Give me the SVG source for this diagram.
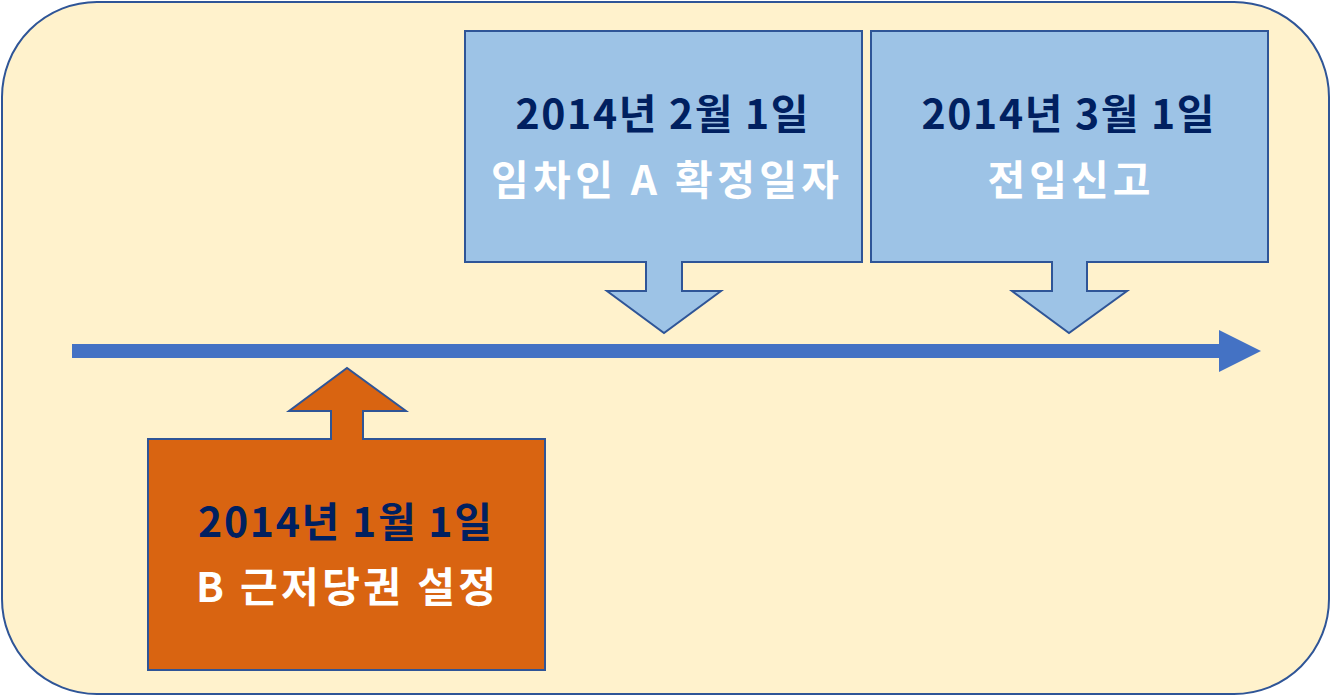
<svg xmlns="http://www.w3.org/2000/svg" width="1331" height="696" viewBox="0 0 1331 696">
<style>
.bg{fill:#FFF2CC;stroke:#2F5597;stroke-width:2}
.blue{fill:#9DC3E6;stroke:#2F5597;stroke-width:2}
.orange{fill:#D96411;stroke:#2F5597;stroke-width:2}
.t{font-family:"Noto Sans CJK KR","Noto Sans",sans-serif;font-weight:bold;font-size:41px;text-anchor:middle}
.d{fill:#002060}
.w{fill:#FFFFFF}
</style>
<rect class="bg" x="2" y="2" width="1327" height="692" rx="95" ry="95"/>
<g id="connectors">
<line x1="72" y1="351" x2="1222" y2="351" stroke="#4472C4" stroke-width="14"/>
<polygon points="1219,330 1261,351 1219,372" fill="#4472C4"/>
</g>
<g id="node-feb">
<path class="blue" d="M465,31 H862 V262 H682 V291 H721 L664,333 L607,291 H646 V262 H465 Z"/>
<text class="t d" x="662" y="129" textLength="293" lengthAdjust="spacing">2014년 2월 1일</text>
<text class="t w" x="665" y="195" textLength="348" lengthAdjust="spacing">임차인 A 확정일자</text>
</g>
<g id="node-mar">
<path class="blue" d="M871,31 H1268 V262 H1087 V291 H1127 L1069,333 L1012,291 H1052 V262 H871 Z"/>
<text class="t d" x="1068" y="129" textLength="293" lengthAdjust="spacing">2014년 3월 1일</text>
<text class="t w" x="1069" y="195" textLength="163" lengthAdjust="spacing">전입신고</text>
</g>
<g id="node-jan">
<path class="orange" d="M148,439 H331 V411 H289 L347,368 L406,411 H363 V439 H545 V670 H148 Z"/>
<text class="t d" x="345" y="537" textLength="294" lengthAdjust="spacing">2014년 1월 1일</text>
<text class="t w" x="346" y="602" textLength="300" lengthAdjust="spacing">B 근저당권 설정</text>
</g>
</svg>
